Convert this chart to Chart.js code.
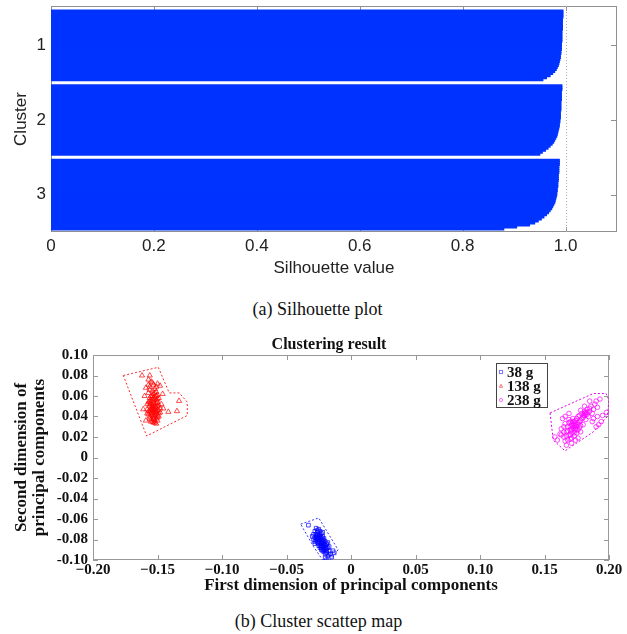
<!DOCTYPE html>
<html>
<head>
<meta charset="utf-8">
<script src="https://cdn.jsdelivr.net/npm/chart.js@4.4.0/dist/chart.umd.min.js"></script>
<style>
  body { margin: 0; background: #fff; width: 627px; height: 634px; position: relative; overflow: hidden; }
  .box { position: absolute; left: 0; width: 627px; }
  .caption { position: absolute; width: 627px; text-align: center; font-family: "Liberation Serif", "Times New Roman", serif; font-size: 18px; line-height: 21px; color: #111; }
</style>
</head>
<body>
<div class="box" style="top:0;height:290px"><canvas id="silChart" width="627" height="290"></canvas></div>
<div class="caption" style="top:299px;left:4px">(a) Silhouette plot</div>
<div class="box" style="top:330px;height:270px"><canvas id="pcaChart" width="627" height="270"></canvas></div>
<div class="caption" style="top:611px;left:5px">(b) Cluster scattep map</div>

<script>
// ---- (a) silhouette data ----
const clusterNames = ['1', '2', '3'];
const cluster1Sil = [0.995, 0.995, 0.995, 0.995, 0.994, 0.994, 0.994, 0.994, 0.994, 0.994,
  0.993, 0.993, 0.993, 0.993, 0.993, 0.993, 0.992, 0.992, 0.992, 0.992,
  0.991, 0.991, 0.990, 0.990, 0.989, 0.988, 0.987, 0.986,
  0.984, 0.982, 0.979, 0.975, 0.970, 0.963, 0.956];
const cluster2Sil = [0.993, 0.993, 0.993, 0.992, 0.992, 0.992, 0.992, 0.992, 0.991, 0.991,
  0.991, 0.991, 0.991, 0.990, 0.990, 0.990, 0.990, 0.989, 0.989, 0.988,
  0.988, 0.987, 0.986, 0.985, 0.984, 0.983, 0.981, 0.979,
  0.977, 0.974, 0.970, 0.966, 0.961, 0.955, 0.950];
const cluster3Sil = [0.988, 0.988, 0.988, 0.987, 0.987, 0.987, 0.987, 0.986, 0.986, 0.986,
  0.986, 0.985, 0.985, 0.985, 0.984, 0.984, 0.983, 0.983, 0.982, 0.981,
  0.980, 0.979, 0.977, 0.975, 0.973, 0.970, 0.967, 0.963,
  0.958, 0.953, 0.947, 0.940, 0.930, 0.905, 0.880];
const silTicks = [0, 0.2, 0.4, 0.6, 0.8, 1.0];
const silTickLabels = ['0', '0.2', '0.4', '0.6', '0.8', '1.0'];

// ---- (b) scatter data ----
const seriesNames = ['38 g', '138 g', '238 g'];
const xTicks = [-0.2, -0.15, -0.1, -0.05, 0, 0.05, 0.1, 0.15, 0.2];
const xTickLabels = ['\u22120.20', '\u22120.15', '\u22120.10', '\u22120.05', '0', '0.05', '0.10', '0.15', '0.20'];
const yTicks = [-0.1, -0.08, -0.06, -0.04, -0.02, 0, 0.02, 0.04, 0.06, 0.08, 0.1];
const yTickLabels = ['-0.10', '-0.08', '-0.06', '-0.04', '-0.02', '0', '0.02', '0.04', '0.06', '0.08', '0.10'];

const pts38 = [[-0.033,-0.066],[-0.027,-0.069],[-0.025,-0.070],[-0.028,-0.072],[-0.026,-0.073],[-0.024,-0.072],
  [-0.029,-0.075],[-0.027,-0.075],[-0.025,-0.076],[-0.023,-0.074],[-0.028,-0.078],[-0.026,-0.078],[-0.024,-0.079],
  [-0.022,-0.077],[-0.027,-0.081],[-0.025,-0.080],[-0.023,-0.081],[-0.021,-0.079],[-0.026,-0.083],[-0.024,-0.083],
  [-0.022,-0.084],[-0.020,-0.082],[-0.025,-0.086],[-0.023,-0.086],[-0.021,-0.087],[-0.019,-0.085],[-0.024,-0.088],
  [-0.022,-0.089],[-0.020,-0.090],[-0.018,-0.088],[-0.021,-0.092],[-0.019,-0.093],[-0.017,-0.091],[-0.016,-0.094],
  [-0.018,-0.096],[-0.020,-0.098],[-0.019,-0.100],[-0.014,-0.091],[-0.013,-0.093],[-0.015,-0.097],[-0.028,-0.084],
  [-0.029,-0.080],[-0.030,-0.077],[-0.022,-0.080],[-0.020,-0.086],[-0.023,-0.090],[-0.017,-0.087],[-0.025,-0.082],
  [-0.021,-0.084],[-0.024,-0.077],[-0.019,-0.089],[-0.026,-0.076],[-0.022,-0.073],[-0.018,-0.083],
  [-0.026,-0.071],[-0.024,-0.075],[-0.027,-0.077],[-0.025,-0.078],[-0.023,-0.078],[-0.026,-0.080],[-0.024,-0.081],
  [-0.022,-0.082],[-0.027,-0.079],[-0.025,-0.084],[-0.023,-0.084],[-0.021,-0.085],[-0.024,-0.086],[-0.022,-0.087],
  [-0.020,-0.088],[-0.023,-0.088],[-0.021,-0.090],[-0.019,-0.091],[-0.022,-0.091],[-0.020,-0.094],[-0.017,-0.095],
  [-0.021,-0.081],[-0.019,-0.084],[-0.023,-0.083],[-0.028,-0.082]];
const pts138 = [[-0.162,0.080],[-0.156,0.080],[-0.157,0.076],[-0.1333,0.0552],[-0.1349,0.0452],[-0.1416,0.0445],
  [-0.1455,0.0478],[-0.150,0.072],[-0.148,0.070],[-0.146,0.062],[-0.159,0.068],[-0.160,0.060],[-0.161,0.047],
  [-0.159,0.036],[-0.147,0.052],[-0.155,0.074],[-0.153,0.071],[-0.156,0.069],[-0.152,0.067],[-0.154,0.065],
  [-0.151,0.064],[-0.157,0.063],[-0.153,0.062],[-0.150,0.061],[-0.155,0.060],[-0.152,0.059],[-0.149,0.058],
  [-0.156,0.058],[-0.154,0.057],[-0.151,0.056],[-0.153,0.055],[-0.157,0.054],[-0.150,0.054],[-0.155,0.053],
  [-0.152,0.052],[-0.154,0.051],[-0.149,0.051],[-0.156,0.050],[-0.153,0.049],[-0.151,0.049],[-0.155,0.048],
  [-0.158,0.047],[-0.152,0.047],[-0.150,0.046],[-0.154,0.046],[-0.156,0.045],[-0.153,0.044],[-0.151,0.044],
  [-0.155,0.043],[-0.152,0.042],[-0.154,0.041],[-0.150,0.041],[-0.156,0.040],[-0.153,0.039],[-0.151,0.038],
  [-0.155,0.037],[-0.152,0.036],[-0.154,0.035],[-0.153,0.034],[-0.151,0.033],[-0.157,0.042],[-0.149,0.043],
  [-0.148,0.048],[-0.158,0.052],[-0.152,0.045],[-0.154,0.048],[-0.150,0.050],[-0.156,0.055],[-0.153,0.058],
  [-0.151,0.060],
  [-0.155,0.046],[-0.153,0.047],[-0.151,0.045],[-0.154,0.043],[-0.152,0.040],[-0.156,0.038],[-0.150,0.039],
  [-0.153,0.037],[-0.155,0.035],[-0.152,0.034],[-0.150,0.036],[-0.157,0.045],[-0.149,0.046],[-0.154,0.050],
  [-0.152,0.050],[-0.156,0.052],[-0.151,0.053],[-0.153,0.053],[-0.155,0.056],[-0.150,0.057],[-0.154,0.060],
  [-0.152,0.063],[-0.156,0.066],[-0.151,0.069],[-0.154,0.073],[-0.157,0.071],[-0.149,0.040],[-0.148,0.044],
  [-0.158,0.043],[-0.153,0.041]];
const pts238 = [[0.158,0.020],[0.160,0.017],[0.162,0.023],[0.163,0.028],[0.165,0.020],[0.166,0.033],[0.166,0.016],
  [0.167,0.025],[0.168,0.030],[0.169,0.022],[0.169,0.037],[0.170,0.027],[0.170,0.018],[0.171,0.032],[0.171,0.024],
  [0.172,0.029],[0.172,0.035],[0.173,0.026],[0.173,0.031],[0.173,0.021],[0.174,0.033],[0.174,0.028],[0.175,0.030],
  [0.175,0.024],[0.175,0.038],[0.176,0.034],[0.176,0.019],[0.177,0.029],[0.177,0.041],[0.178,0.036],[0.178,0.025],
  [0.179,0.043],[0.180,0.039],[0.180,0.032],[0.181,0.045],[0.181,0.041],[0.182,0.044],[0.182,0.037],[0.183,0.047],
  [0.183,0.042],[0.184,0.040],[0.185,0.045],[0.186,0.050],[0.187,0.043],[0.188,0.047],[0.189,0.052],[0.190,0.055],
  [0.191,0.049],[0.193,0.057],[0.195,0.041],[0.194,0.035],[0.191,0.040],[0.198,0.044],[0.190,0.030],[0.187,0.035],
  [0.169,0.043],[0.164,0.038],[0.167,0.012],[0.171,0.014],[0.174,0.017],[0.176,0.027],[0.172,0.033],[0.170,0.030],
  [0.174,0.036],[0.178,0.031],
  [0.171,0.027],[0.173,0.024],[0.174,0.031],[0.172,0.031],[0.175,0.027],[0.170,0.022],[0.168,0.026],[0.176,0.032],
  [0.173,0.035],[0.171,0.019],[0.169,0.034],[0.177,0.035],[0.182,0.042],[0.181,0.043],[0.183,0.044],[0.180,0.041],
  [0.185,0.048],[0.179,0.038],[0.167,0.021],[0.165,0.025],
  [0.170,0.035],[0.172,0.038],[0.176,0.040],[0.165,0.030],[0.163,0.022],[0.168,0.017],[0.192,0.032],[0.188,0.038],
  [0.185,0.055],[0.181,0.050],[0.178,0.046],[0.166,0.040]];

const hull38 = [[-0.039,-0.065],[-0.025,-0.059],[-0.010,-0.090],[-0.016,-0.100],[-0.022,-0.100],[-0.029,-0.087],[-0.039,-0.065]];
const hull138 = [[-0.1765,0.080],[-0.1494,0.088],[-0.1409,0.063],[-0.1331,0.063],[-0.1269,0.054],[-0.1269,0.041],[-0.1584,0.021],[-0.1765,0.080]];
const hull238 = [[0.1543,0.0435],[0.1878,0.0624],[0.1977,0.0624],[0.2,0.056],[0.1987,0.040],[0.1878,0.025],[0.1659,0.0065],[0.1568,0.0169],[0.1543,0.0435]];

const sans = '"Liberation Sans", Arial, sans-serif';
const serif = '"Liberation Serif", "Times New Roman", serif';

// ---- build silhouette rows (gaps between clusters) ----
const rowValues = [];
const rowLabels = [];
const clusterRows = [];
function pushGap(n) {
  for (let i = 0; i < n; i++) { rowValues.push(null); rowLabels.push(''); }
}
pushGap(2);
[cluster1Sil, cluster2Sil, cluster3Sil].forEach((vals, k) => {
  if (k > 0) pushGap(2);
  const start = rowValues.length;
  vals.forEach(v => { rowValues.push(v); rowLabels.push(''); });
  const mid = start + Math.floor(vals.length / 2);
  rowLabels[mid] = clusterNames[k];
  clusterRows.push(mid);
});
pushGap(1);

// box frame + inward ticks, matlab style
const silFrame = {
  id: 'silFrame',
  beforeDatasetsDraw(chart) {
    const { ctx, chartArea: a, scales: { x, y } } = chart;
    ctx.save();
    ctx.strokeStyle = '#8f8f8f';
    ctx.lineWidth = 1;
    ctx.strokeRect(a.left + 0.5, a.top + 0.5, a.width - 1, a.height - 1);
    ctx.beginPath();
    silTicks.forEach(v => {
      const px = Math.round(x.getPixelForValue(v)) + 0.5;
      ctx.moveTo(px, a.top); ctx.lineTo(px, a.top + 5);
      ctx.moveTo(px, a.bottom); ctx.lineTo(px, a.bottom - 5);
    });
    clusterRows.forEach(r => {
      const py = Math.round(y.getPixelForValue(r)) + 0.5;
      ctx.moveTo(a.right, py); ctx.lineTo(a.right - 6, py);
      ctx.moveTo(a.left, py); ctx.lineTo(a.left + 6, py);
    });
    ctx.stroke();
    // dotted reference line at 1.0
    const rx = Math.round(x.getPixelForValue(1)) + 0.5;
    ctx.strokeStyle = '#b0b0b0';
    ctx.setLineDash([1, 2]);
    ctx.beginPath();
    ctx.moveTo(rx, a.top); ctx.lineTo(rx, a.bottom);
    ctx.stroke();
    ctx.restore();
  }
};

new Chart(document.getElementById('silChart'), {
  type: 'bar',
  data: {
    labels: rowLabels,
    datasets: [{
      data: rowValues,
      backgroundColor: '#0033ff',
      borderWidth: 0,
      barPercentage: 1,
      categoryPercentage: 1,
      inflateAmount: 0.5
    }]
  },
  options: {
    indexAxis: 'y',
    responsive: false,
    animation: false,
    layout: { padding: { top: 6, right: 10, left: 0, bottom: 0 } },
    plugins: { legend: { display: false }, tooltip: { enabled: false } },
    scales: {
      x: {
        type: 'linear', min: 0, max: 1.1,
        afterBuildTicks: s => { s.ticks = silTicks.map(v => ({ value: v })); },
        afterFit: s => { s.height = 58; },
        grid: { display: false, drawTicks: false },
        border: { display: false },
        ticks: {
          padding: 4, color: '#222', maxRotation: 0, autoSkip: false,
          font: { family: sans, size: 17 },
          callback: (v, i) => silTickLabels[i]
        },
        title: {
          display: true, text: 'Silhouette value', color: '#222',
          font: { family: sans, size: 17 }, padding: { top: 0, bottom: 11 }
        }
      },
      y: {
        type: 'category',
        afterFit: s => { s.width = 51; s.paddingTop = 0; s.paddingBottom = 0; },
        grid: { display: false, drawTicks: false },
        border: { display: false },
        ticks: {
          autoSkip: false, padding: 5, color: '#222',
          font: { family: sans, size: 17 },
          callback: (v, i) => rowLabels[i]
        },
        title: {
          display: true, text: 'Cluster', color: '#222',
          font: { family: sans, size: 17 }, padding: { top: 11, bottom: 0 }
        }
      }
    }
  },
  plugins: [silFrame]
});

// ---- (b) scatter ----
const pcaFrame = {
  id: 'pcaFrame',
  beforeDatasetsDraw(chart) {
    const { ctx, chartArea: a, scales: { x, y } } = chart;
    ctx.save();
    ctx.strokeStyle = '#999';
    ctx.lineWidth = 1;
    ctx.strokeRect(a.left + 0.5, a.top + 0.5, a.width - 1, a.height - 1);
    ctx.beginPath();
    xTicks.forEach(v => {
      const px = Math.round(x.getPixelForValue(v)) + 0.5;
      ctx.moveTo(px, a.top); ctx.lineTo(px, a.top + 5);
      ctx.moveTo(px, a.bottom); ctx.lineTo(px, a.bottom - 5);
    });
    yTicks.forEach(v => {
      const py = Math.round(y.getPixelForValue(v)) + 0.5;
      ctx.moveTo(a.left, py); ctx.lineTo(a.left + 5, py);
      ctx.moveTo(a.right, py); ctx.lineTo(a.right - 5, py);
    });
    ctx.stroke();
    ctx.restore();
  }
};

function drawMarker(ctx, style, cx, cy, r) {
  ctx.beginPath();
  if (style === 'rect') {
    ctx.rect(cx - r, cy - r, 2 * r, 2 * r);
  } else if (style === 'triangle') {
    ctx.moveTo(cx, cy - r);
    ctx.lineTo(cx + r, cy + r * 0.8);
    ctx.lineTo(cx - r, cy + r * 0.8);
    ctx.closePath();
  } else {
    ctx.arc(cx, cy, r, 0, Math.PI * 2);
  }
  ctx.stroke();
}

const legendBox = {
  id: 'legendBox',
  afterDatasetsDraw(chart) {
    const { ctx, chartArea: a } = chart;
    const left = Math.round(a.right - 113), top = Math.round(a.top + 8), w = 51, h = 44;
    ctx.save();
    ctx.fillStyle = '#fff';
    ctx.fillRect(left, top, w, h);
    ctx.strokeStyle = '#444';
    ctx.lineWidth = 1;
    ctx.strokeRect(left + 0.5, top + 0.5, w, h);
    chart.data.datasets.filter(d => !d.isHull).forEach((d, i) => {
      const cy = top + 9 + i * 14;
      ctx.strokeStyle = d.borderColor;
      ctx.lineWidth = 0.8;
      drawMarker(ctx, d.pointStyle, left + 5, cy, 1.6);
      ctx.fillStyle = '#111';
      ctx.font = 'bold 15px ' + serif;
      ctx.textBaseline = 'middle';
      ctx.fillText(d.label, left + 11, cy + 1);
    });
    ctx.restore();
  }
};

const toXY = arr => arr.map(p => ({ x: p[0], y: p[1] }));

function hullSet(pts, color) {
  return {
    type: 'line', isHull: true, label: 'hull', data: toXY(pts),
    borderColor: color, borderWidth: 1, borderDash: [2, 2],
    pointRadius: 0, fill: false, tension: 0
  };
}

new Chart(document.getElementById('pcaChart'), {
  type: 'scatter',
  data: {
    datasets: [
      { label: seriesNames[0], data: toXY(pts38), pointStyle: 'rect', pointRadius: 2.6,
        borderColor: 'rgba(0,0,255,0.7)', backgroundColor: 'rgba(0,0,0,0)', borderWidth: 1 },
      { label: seriesNames[1], data: toXY(pts138), pointStyle: 'triangle', pointRadius: 3,
        borderColor: 'rgba(255,0,0,0.7)', backgroundColor: 'rgba(0,0,0,0)', borderWidth: 1 },
      { label: seriesNames[2], data: toXY(pts238), pointStyle: 'circle', pointRadius: 2.3,
        borderColor: 'rgba(255,0,255,0.7)', backgroundColor: 'rgba(0,0,0,0)', borderWidth: 1 },
      hullSet(hull38, '#3333ff'),
      hullSet(hull138, '#ff2a2a'),
      hullSet(hull238, '#e600e6')
    ]
  },
  options: {
    responsive: false,
    animation: false,
    layout: { padding: { top: 0, right: 18, left: 49, bottom: 0 } },
    plugins: {
      legend: { display: false },
      tooltip: { enabled: false },
      title: {
        display: true, text: 'Clustering result', color: '#111',
        font: { family: serif, size: 16, weight: 'bold', lineHeight: 1 },
        padding: { top: 7, bottom: 2 }
      }
    },
    scales: {
      x: {
        type: 'linear', min: -0.2, max: 0.2,
        afterBuildTicks: s => { s.ticks = xTicks.map(v => ({ value: v })); },
        afterFit: s => { s.height = 40; },
        grid: { display: false, drawTicks: false },
        border: { display: false },
        ticks: {
          padding: 1, color: '#111', maxRotation: 0, autoSkip: false,
          font: { family: serif, size: 15, weight: 'bold' },
          callback: (v, i) => xTickLabels[i]
        },
        title: {
          display: true, text: 'First dimension of principal components', color: '#111',
          font: { family: serif, size: 17, weight: 'bold', lineHeight: 1.1 },
          padding: { top: 0, bottom: 5 }
        }
      },
      y: {
        type: 'linear', min: -0.1, max: 0.1,
        afterBuildTicks: s => { s.ticks = yTicks.map(v => ({ value: v })); },
        afterFit: s => { s.width = 44; },
        grid: { display: false, drawTicks: false },
        border: { display: false },
        ticks: {
          padding: 5, color: '#111', autoSkip: false,
          font: { family: serif, size: 15, weight: 'bold' },
          callback: (v, i) => yTickLabels[i]
        },
        title: {
          display: true, text: ['Second dimension of', 'principal components'], color: '#111',
          font: { family: serif, size: 17, weight: 'bold', lineHeight: 1.05 },
          padding: { top: -36, bottom: 0 }
        }
      }
    }
  },
  plugins: [pcaFrame, legendBox]
});
</script>
</body>
</html>
